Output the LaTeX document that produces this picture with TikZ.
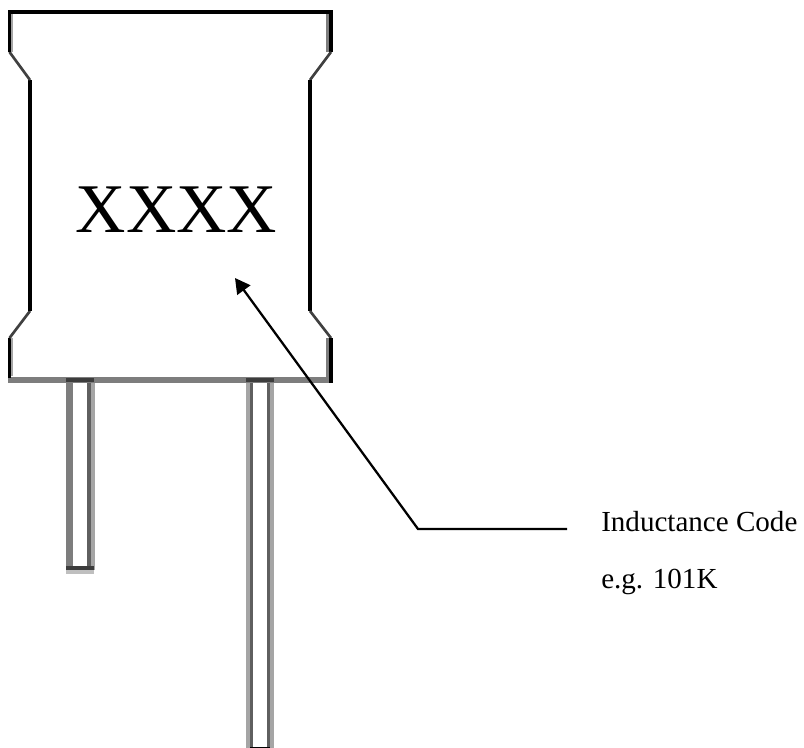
\documentclass[tikz,border=0pt]{standalone}
\usepackage{fontspec}
\setmainfont{Liberation Serif}
\usetikzlibrary{arrows.meta, positioning}
\definecolor{pingray}{RGB}{125,125,125}
\definecolor{pinlight}{RGB}{165,165,165}
\definecolor{pinshade}{RGB}{95,95,95}
\definecolor{pindark}{RGB}{60,60,60}

\tikzset{
    outline/.style={line width=2.6pt, black},
    notch/.style={line width=2pt, black!75},
    railgray/.style={line width=5pt, pingray},
    raillight/.style={line width=3pt, pinlight},
    railshade/.style={line width=2.6pt, pinshade},
    capdark/.style={line width=3pt, pindark},
    calloutline/.style={line width=1.7pt, black},
    calloutlabel/.style={inner sep=0pt, anchor=base west, font=\fontsize{21.8}{26}\selectfont},
}

\begin{document}
\begin{tikzpicture}[x=0.75pt, y=-0.75pt]
    \useasboundingbox (0,0) rectangle (804,748);

    % Leads
    \draw[railgray] (69.5,380) -- (69.5,570);
    \draw[railshade] (89,380) -- (89,570);
    \draw[raillight] (92.5,380) -- (92.5,570);
    \draw[capdark] (66,568.5) -- (94,568.5);
    \draw[line width=3pt, black!25] (66,572) -- (94,572);
    \draw[raillight] (248,380) -- (248,748);
    \draw[railshade] (251.5,380) -- (251.5,748);
    \draw[railshade] (268.5,380) -- (268.5,748);
    \draw[raillight] (272,380) -- (272,748);
    \draw[line width=1.5pt, black] (250,747.5) -- (270,747.5);

    % Body
    \draw[railgray] (8,380) -- (333,380);
    \draw[capdark] (66,380) -- (94,380);
    \draw[capdark] (246,380) -- (274,380);
    \draw[outline] (9.5,378) -- (9.5,338);
    \draw[notch] (9.5,338) -- (30,311);
    \draw[outline] (30,311) -- (30,80);
    \draw[notch] (30,80) -- (9.5,52);
    \draw[raillight, line width=1.5pt] (12,14) -- (12,52);
    \draw[raillight, line width=1.5pt] (12,338) -- (12,376);
    \draw[pingray, line width=2.2pt] (327.5,14) -- (327.5,52);
    \draw[pingray, line width=2.2pt] (327.5,338) -- (327.5,378);
    \draw[outline] (9.5,52) -- (9.5,12) -- (331,12) -- (331,52);
    \draw[notch] (331,52) -- (310,80);
    \draw[outline] (310,80) -- (310,311);
    \draw[notch] (310,311) -- (331,338);
    \draw[outline] (331,338) -- (331,383);

    % Marking and callout
    \node[inner sep=0pt, anchor=base, font=\fontsize{52.3}{56}\selectfont] (code) at (176.5,232.5) {XXXX};
    \coordinate (tip) at (235,278);
    \coordinate (elbow) at (418,529);
    \coordinate (tail) at (567,529);
    \node[calloutlabel] (inductance) at (601,532) {Inductance Code};
    \node[calloutlabel] (sample) at (601,589) {e.g. 101K};
    \draw[calloutline, -{Triangle[length=11.3pt, width=12pt]}] (tail) -- (elbow) -- (tip);
\end{tikzpicture}
\end{document}
